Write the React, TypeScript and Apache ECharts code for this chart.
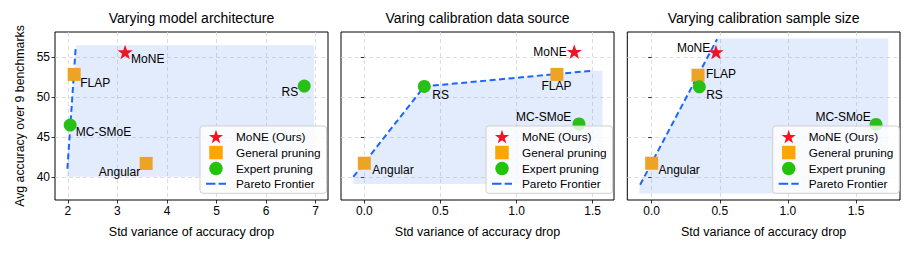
import React, { useEffect, useRef } from "react";
import * as echarts from "echarts";

// ---------- data ----------
const panelTitles = [
  "Varying model architecture",
  "Varing calibration data source",
  "Varying calibration sample size",
];
const methodNames = ["MoNE", "FLAP", "Angular", "MC-SMoE", "RS"];
const methodGroups = ["MoNE (Ours)", "General pruning", "General pruning", "Expert pruning", "Expert pruning"];
const legendNames = ["MoNE (Ours)", "General pruning", "Expert pruning", "Pareto Frontier"];

const archX = [3.155, 2.127, 3.58, 2.046, 6.77];
const archY = [55.6, 52.8, 41.67, 46.46, 51.34];
const sourceX = [1.379, 1.265, 0.0, 1.41, 0.394];
const sourceY = [55.65, 52.8, 41.7, 46.6, 51.3];
const sizeX = [0.472, 0.34, 0.0, 1.647, 0.35];
const sizeY = [55.6, 52.7, 41.7, 46.55, 51.25];

const archParetoX = [1.99, 2.156];
const archParetoY = [41.0, 56.0];
const sourceParetoX = [-0.072, 0.394, 1.49];
const sourceParetoY = [40.0, 51.3, 53.25];
const sizeParetoX = [-0.085, 0.48];
const sizeParetoY = [39.0, 57.2];

const archShadeX = [1.98, 2.16, 6.97, 6.97];
const archShadeY = [40.0, 56.45, 56.45, 40.0];
const sourceShadeX = [-0.072, -0.072, 0.394, 1.49, 1.565, 1.565];
const sourceShadeY = [39.1, 40.0, 51.3, 53.25, 53.25, 39.1];
const sizeShadeX = [-0.09, -0.09, 0.48, 1.737, 1.737];
const sizeShadeY = [37.9, 39.0, 57.3, 57.3, 37.9];

const yTicks = [40, 45, 50, 55];
const archXTicks = [2, 3, 4, 5, 6, 7];
const calXTicks = [0, 0.5, 1.0, 1.5];

const yRange = [37.1, 58.1];
const xRanges = [
  [1.74, 7.25],
  [-0.153, 1.64],
  [-0.179, 1.823],
];

// ---------- styling ----------
const FONT = "Liberation Sans, Arial, Helvetica, sans-serif";
const grids = [
  { left: 55, top: 32, width: 273, height: 168 },
  { left: 341, top: 32, width: 273, height: 168 },
  { left: 627.3, top: 32, width: 272.7, height: 168 },
];
const legendLefts = [200, 486, 772.7];

type Place = [string, number, number];
const labelPlacement: Record<string, Place>[] = [
  { MoNE: ["left", 6, 6.6], FLAP: ["left", 6, 8.4], Angular: ["right", -6, 8.4], "MC-SMoE": ["left", 5.7, 6.7], RS: ["right", -6, 5.7] },
  { MoNE: ["right", -7.6, 0], FLAP: ["center", -0.5, 12], Angular: ["left", 8, 7], "MC-SMoE": ["right", -7.6, -6.8], RS: ["left", 8, 9] },
  { MoNE: ["right", -5.7, -4.5], FLAP: ["left", 8, -1.5], Angular: ["left", 6.8, 6.8], "MC-SMoE": ["right", -5.3, -7], RS: ["left", 6.8, 8.5] },
];

const STAR =
  "path://M50,0 L61.8,35.3 L98.1,35.3 L68.8,57.1 L79.4,91.9 L50,70.6 L20.6,91.9 L31.2,57.1 L1.9,35.3 L38.2,35.3 Z";
const SQUARE = "path://M0,0H10V10H0Z";
const CIRCLE = "path://M5,0A5,5,0,1,1,5,10A5,5,0,1,1,5,0Z";
const DASH = "path://M0,0H9V2H0Z M12,0H19V2H12Z";

const groupStyle: Record<string, { symbol: string; size: any; color: string; legendColor: string; legendIcon: string }> = {
  "MoNE (Ours)": { symbol: STAR, size: [15.5, 14.6], color: "#ee1526", legendColor: "#ff0f1f", legendIcon: STAR },
  "General pruning": { symbol: "rect", size: 13, color: "#eda323", legendColor: "#ffa500", legendIcon: SQUARE },
  "Expert pruning": { symbol: "circle", size: 13, color: "#28c017", legendColor: "#22c40a", legendIcon: CIRCLE },
};
const LINE_COLOR = "#1a66ff";
const SHADE = "rgba(100,149,237,0.18)";

const panelXs = [archX, sourceX, sizeX];
const panelYs = [archY, sourceY, sizeY];
const paretoXs = [archParetoX, sourceParetoX, sizeParetoX];
const paretoYs = [archParetoY, sourceParetoY, sizeParetoY];
const shadeXs = [archShadeX, sourceShadeX, sizeShadeX];
const shadeYs = [archShadeY, sourceShadeY, sizeShadeY];
const xTickSets = [archXTicks, calXTicks, calXTicks];

function buildOption() {
  const series: any[] = [];
  const xAxis: any[] = [];
  const yAxis: any[] = [];
  const legend: any[] = [];
  const title: any[] = [];

  for (let p = 0; p < 3; p++) {
    const g = grids[p];
    title.push({
      text: panelTitles[p],
      left: g.left + g.width / 2,
      top: 10.5,
      textAlign: "center",
      padding: 0,
      textStyle: { fontFamily: FONT, fontSize: 14, fontWeight: "normal", color: "#000" },
    });

    xAxis.push({
      type: "value",
      gridIndex: p,
      min: xRanges[p][0],
      max: xRanges[p][1],
      name: "Std variance of accuracy drop",
      nameLocation: "middle",
      nameGap: 25,
      nameTextStyle: { fontFamily: FONT, fontSize: 12.5, color: "#000" },
      axisLine: { show: false },
      axisTick: { show: true, inside: false, length: 3.5, lineStyle: { color: "#000", width: 0.8 }, customValues: xTickSets[p] },
      axisLabel: {
        show: true,
        customValues: xTickSets[p],
        margin: 5,
        fontFamily: FONT,
        fontSize: 12,
        color: "#000",
        formatter: (v: number) => (p === 0 ? String(v) : v.toFixed(1)),
      },
      splitLine: { show: true, lineStyle: { color: "#d4d4d4", type: [4, 3], width: 0.8 } },
    });

    yAxis.push({
      type: "value",
      gridIndex: p,
      min: yRange[0],
      max: yRange[1],
      name: p === 0 ? "Avg accuracy over 9 benchmarks" : "",
      nameLocation: "middle",
      nameGap: 29,
      nameTextStyle: { fontFamily: FONT, fontSize: 12.3, color: "#000" },
      axisLine: { show: false },
      axisTick: { show: true, inside: false, length: 3.5, lineStyle: { color: "#000", width: 0.8 }, customValues: yTicks },
      axisLabel: {
        show: p === 0,
        customValues: yTicks,
        margin: 5,
        fontFamily: FONT,
        fontSize: 12,
        color: "#000",
      },
      splitLine: { show: true, lineStyle: { color: "#d4d4d4", type: [4, 3], width: 0.8 } },
    });

    // shaded dominated region
    const shadePts = shadeXs[p].map((x, i) => [x, shadeYs[p][i]]);
    series.push({
      type: "custom",
      name: "shade" + p,
      xAxisIndex: p,
      yAxisIndex: p,
      silent: true,
      z: 1,
      data: shadePts,
      renderItem: (params: any, api: any) => {
        if (params.dataIndex !== 0) return null;
        const pts = shadePts.map((pt) => api.coord(pt));
        return { type: "polygon", shape: { points: pts }, style: { fill: SHADE } };
      },
    });

    // pareto frontier
    series.push({
      type: "line",
      name: "Pareto Frontier",
      xAxisIndex: p,
      yAxisIndex: p,
      data: paretoXs[p].map((x, i) => [x, paretoYs[p][i]]),
      symbol: "none",
      color: LINE_COLOR,
      itemStyle: { color: LINE_COLOR, borderWidth: 0 },
      lineStyle: { color: LINE_COLOR, width: 2, type: [6, 3.5] },
      z: 3,
      silent: true,
    });

    // scatter groups
    for (const grp of ["MoNE (Ours)", "General pruning", "Expert pruning"]) {
      const st = groupStyle[grp];
      const data: any[] = [];
      methodNames.forEach((m, i) => {
        if (methodGroups[i] !== grp) return;
        const pl = labelPlacement[p][m];
        data.push({
          name: m,
          value: [panelXs[p][i], panelYs[p][i]],
          label: {
            show: true,
            formatter: "{b}",
            position: "inside",
            align: pl[0],
            verticalAlign: "middle",
            offset: [pl[1], pl[2]],
            fontFamily: FONT,
            fontSize: 12,
            color: "#000",
          },
        });
      });
      series.push({
        type: "scatter",
        name: grp,
        xAxisIndex: p,
        yAxisIndex: p,
        symbol: st.symbol,
        symbolSize: st.size,
        itemStyle: { color: st.color, opacity: 1 },
        data,
        z: 4,
        silent: true,
      });
    }

    legend.push({
      orient: "vertical",
      left: legendLefts[p],
      top: 126,
      itemWidth: 20,
      itemHeight: 13.5,
      itemGap: 2.5,
      padding: [3.8, 6, 3.5, 6],
      backgroundColor: "rgba(255,255,255,0.8)",
      borderColor: "#cfcfcf",
      borderWidth: 1,
      borderRadius: 3,
      selectedMode: false,
      z: 10,
      symbolKeepAspect: true,
      textStyle: { fontFamily: FONT, fontSize: 11.8, color: "#000", padding: [0, 0, 0, 5] },
      data: legendNames.map((n) =>
        n === "Pareto Frontier"
          ? { name: n, icon: DASH, itemStyle: { color: LINE_COLOR, borderWidth: 0 } }
          : { name: n, icon: groupStyle[n].legendIcon, itemStyle: { color: groupStyle[n].legendColor, borderWidth: 0 } }
      ),
    });
  }

  return {
    animation: false,
    backgroundColor: "#fff",
    textStyle: { fontFamily: FONT },
    title,
    grid: grids.map((g) => ({ ...g, show: true, borderColor: "#000", borderWidth: 1, backgroundColor: "transparent", containLabel: false })),
    xAxis,
    yAxis,
    legend,
    series,
  };
}

export default function App() {
  const ref = useRef<HTMLDivElement>(null);
  useEffect(() => {
    if (!ref.current) return;
    const chart = echarts.init(ref.current, undefined, { renderer: "svg" });
    chart.setOption(buildOption() as any);
    return () => chart.dispose();
  }, []);
  return (
    <div
      ref={ref}
      style={{ position: "fixed", left: 0, top: 0, width: 914, height: 254, background: "#fff" }}
    />
  );
}
